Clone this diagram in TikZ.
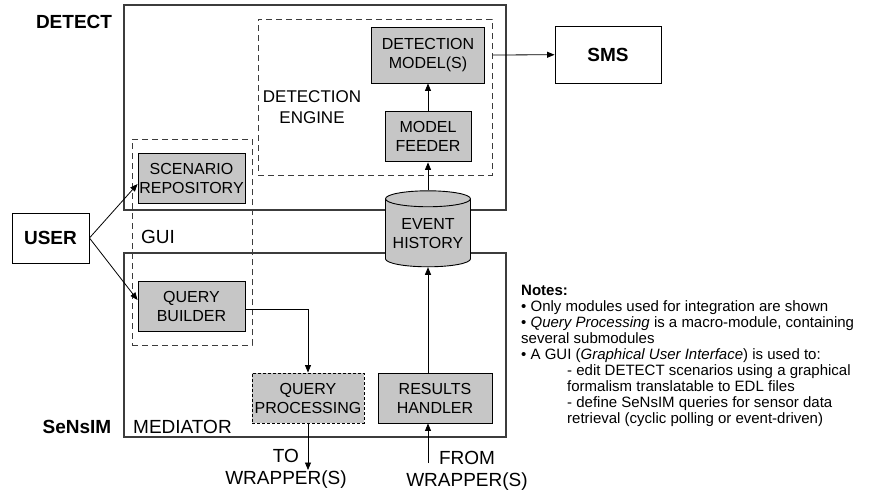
\documentclass[tikz,border=0pt]{standalone}
\usepackage{fontspec}
\setmainfont{Liberation Sans}
\usetikzlibrary{arrows.meta,positioning,shapes.geometric}
\definecolor{boxGray}{HTML}{C6C6C6}
\definecolor{frameGray}{HTML}{3C3C3C}
\newcommand{\boxfont}{\fontsize{16}{19}\selectfont}
\newcommand{\lblfont}{\fontsize{19}{22}\selectfont}
\newcommand{\notefont}{\fontsize{15}{16}\selectfont}
\tikzset{
  sbox/.style={draw,fill=boxGray,align=center,inner sep=1pt,font=\boxfont,line width=0.9pt},
  pbox/.style={sbox,dashed,dash pattern=on 3pt off 2pt},
  hist/.style={sbox,cylinder,shape border rotate=90,aspect=0.22},
  wbox/.style={draw,fill=white,align=center,font=\lblfont\bfseries,line width=0.9pt},
  frame/.style={draw=frameGray,line width=1.3pt,inner sep=0pt},
  dframe/.style={draw=frameGray,line width=1pt,dash pattern=on 6pt off 4pt,inner sep=0pt},
  lbl/.style={align=center,inner sep=0pt,font=\lblfont},
  lblb/.style={lbl,font=\lblfont\bfseries},
  flow/.style={-{Triangle[length=7.5pt,width=6pt]},line width=0.8pt},
}

\begin{document}
\begin{tikzpicture}[x=1pt,y=-1pt]
\useasboundingbox (0,0) rectangle (870,498);
\node[frame,minimum width=382pt,minimum height=205pt] (det) at (315,107.5) {};
\node[frame,minimum width=382pt,minimum height=184pt] (med) at (315,345) {};
\node[dframe,minimum width=234pt,minimum height=156pt] (eng) at (375,97) {};
\node[dframe,minimum width=120pt,minimum height=206pt] (gui) at (192,242) {};
\node[sbox,minimum width=113pt,minimum height=56pt] (dm) at (428,55) {DETECTION\\MODEL(S)};
\node[sbox,below=28pt of dm,minimum width=86pt,minimum height=50pt] (mf) {MODEL\\FEEDER};
\node[hist,below=28pt of mf,minimum width=85pt,minimum height=76pt] (eh) {EVENT\\HISTORY};
\node[sbox,minimum width=107pt,minimum height=50pt] (sr) at (191.5,178) {SCENARIO\\REPOSITORY};
\node[sbox,minimum width=107pt,minimum height=50pt] (qb) at (191.5,306) {QUERY\\BUILDER};
\node[pbox,minimum width=112pt,minimum height=50pt] (qp) at (308,398) {QUERY\\PROCESSING};
\node[sbox,minimum width=114pt,minimum height=50pt] (rh) at (435,398) {RESULTS\\HANDLER};
\node[wbox,minimum width=77pt,minimum height=50pt] (user) at (50.5,238) {USER};
\node[wbox,minimum width=106pt,minimum height=57pt] (sms) at (608,54.5) {SMS};
\node[lblb] (detl) at (74,22) {DETECT};
\node[lblb] (snl) at (77,427) {SeNsIM};
\node[lbl,anchor=west] (medl) at (133,427) {MEDIATOR};
\node[lbl,anchor=west] (guil) at (141,237) {GUI};
\node[lbl,font=\fontsize{17}{21}\selectfont] (engl) at (312,107) {DETECTION\\ENGINE};
\node[lbl] (tol) at (286,469) {TO\\WRAPPER(S)};
\node[lbl] (froml) at (467,471) {FROM\\WRAPPER(S)};
\coordinate (toW) at (308,470);
\coordinate (fromW) at (428,463);
\node[align=left,inner sep=0pt,font=\notefont,anchor=north west] (notes) at (521,285) {%
\textbf{Notes:}\\
• Only modules used for integration are shown\\
• \textit{Query Processing} is a macro-module, containing\\
several submodules\\
• A GUI (\textit{Graphical User Interface}) is used to:\\
\hspace*{46pt}- edit DETECT scenarios using a graphical\\
\hspace*{46pt}formalism translatable to EDL files\\
\hspace*{46pt}- define SeNsIM queries for sensor data\\
\hspace*{46pt}retrieval (cyclic polling or event-driven)};
\draw[flow] (mf) -- (dm);
\draw[flow] (eh) -- (mf);
\draw[flow] (eh.south |- rh.north) -- (eh.south);
\draw[flow] (eng.east |- dm) -- (sms);
\draw[flow] (user.east) -- ([yshift=-6pt]sr.west);
\draw[flow] (user.east) -- ([yshift=6pt]qb.west);
\draw[flow] ([yshift=-3pt]qb.east) -| (qp.north);
\draw[flow] (qp) -- (toW);
\draw[flow] (fromW) -- (fromW |- rh.south);
\end{tikzpicture}
\end{document}
